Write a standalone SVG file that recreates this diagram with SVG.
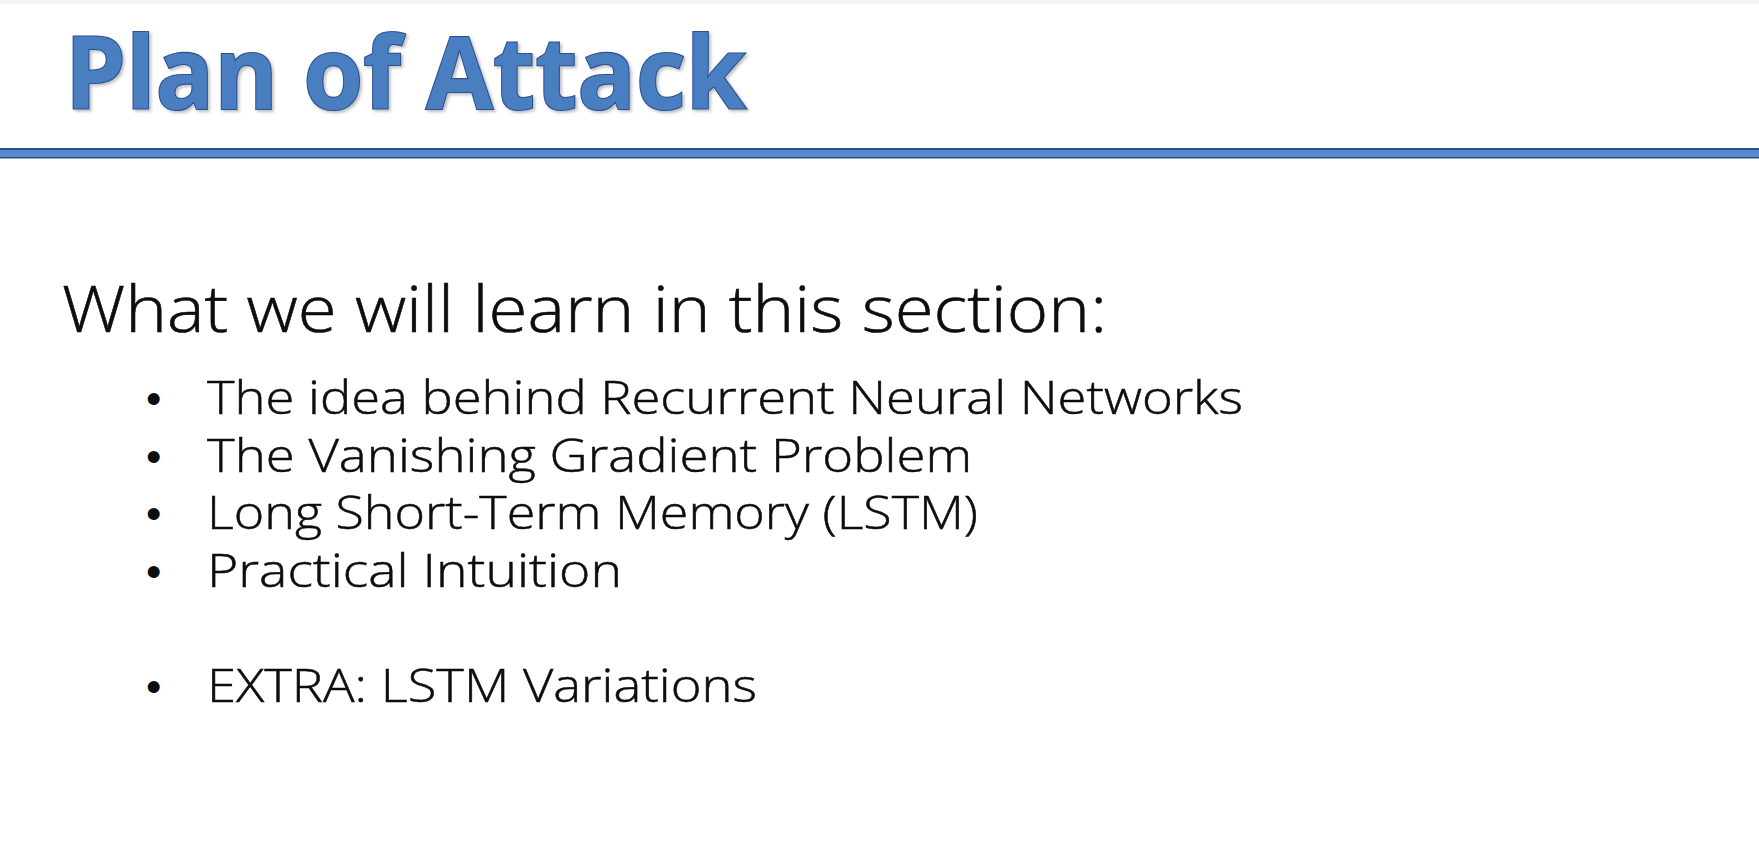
<svg xmlns="http://www.w3.org/2000/svg" width="1759" height="868" viewBox="0 0 1759 868">
  <style>
    .title { font-family: "Open Sans", "Liberation Sans", sans-serif; font-weight: 700; font-size: 100px; fill: #4a7ec0; stroke: #2c5290; stroke-width: 2.2px; paint-order: stroke; }
    .head { font-family: "Open Sans", "Liberation Sans", sans-serif; font-weight: 300; font-size: 64px; fill: #0d0d0d; stroke: #0d0d0d; stroke-width: 0.6px; }
    .item { font-family: "Open Sans", "Liberation Sans", sans-serif; font-weight: 300; font-size: 46px; fill: #0d0d0d; stroke: #0d0d0d; stroke-width: 0.5px; }
    .bullet { font-family: "Liberation Sans", sans-serif; font-size: 44px; fill: #0d0d0d; }
  </style>
  <defs>
    <filter id="shadow" x="-5%" y="-20%" width="110%" height="140%">
      <feDropShadow dx="2" dy="2" stdDeviation="1.5" flood-color="#000" flood-opacity="0.25"/>
    </filter>
  </defs>
  <rect x="0" y="0" width="1759" height="868" fill="#ffffff"/>
  <rect x="0" y="0" width="1759" height="4" fill="#f3f3f3"/>
  <g id="title">
    <text class="title" x="65" y="109" textLength="681" lengthAdjust="spacingAndGlyphs" filter="url(#shadow)">Plan of Attack</text>
  </g>
  <g id="rule">
    <rect x="0" y="148" width="1759" height="10.5" fill="#2f4f82"/>
    <rect x="0" y="150" width="1759" height="7" fill="#5589d3"/>
  </g>
  <g id="heading">
    <text class="head" x="62" y="332" textLength="1045" lengthAdjust="spacingAndGlyphs">What we will learn in this section:</text>
  </g>
  <g id="item1">
    <text class="bullet" x="146" y="414">•</text>
    <text class="item" x="207" y="414" textLength="1036" lengthAdjust="spacingAndGlyphs">The idea behind Recurrent Neural Networks</text>
  </g>
  <g id="item2">
    <text class="bullet" x="146" y="472">•</text>
    <text class="item" x="207" y="472" textLength="765" lengthAdjust="spacingAndGlyphs">The Vanishing Gradient Problem</text>
  </g>
  <g id="item3">
    <text class="bullet" x="146" y="529">•</text>
    <text class="item" x="207" y="529" textLength="771" lengthAdjust="spacingAndGlyphs">Long Short-Term Memory (LSTM)</text>
  </g>
  <g id="item4">
    <text class="bullet" x="146" y="587">•</text>
    <text class="item" x="207" y="587" textLength="415" lengthAdjust="spacingAndGlyphs">Practical Intuition</text>
  </g>
  <g id="item5">
    <text class="bullet" x="146" y="702">•</text>
    <text class="item" x="207" y="702" textLength="550" lengthAdjust="spacingAndGlyphs">EXTRA: LSTM Variations</text>
  </g>
</svg>
